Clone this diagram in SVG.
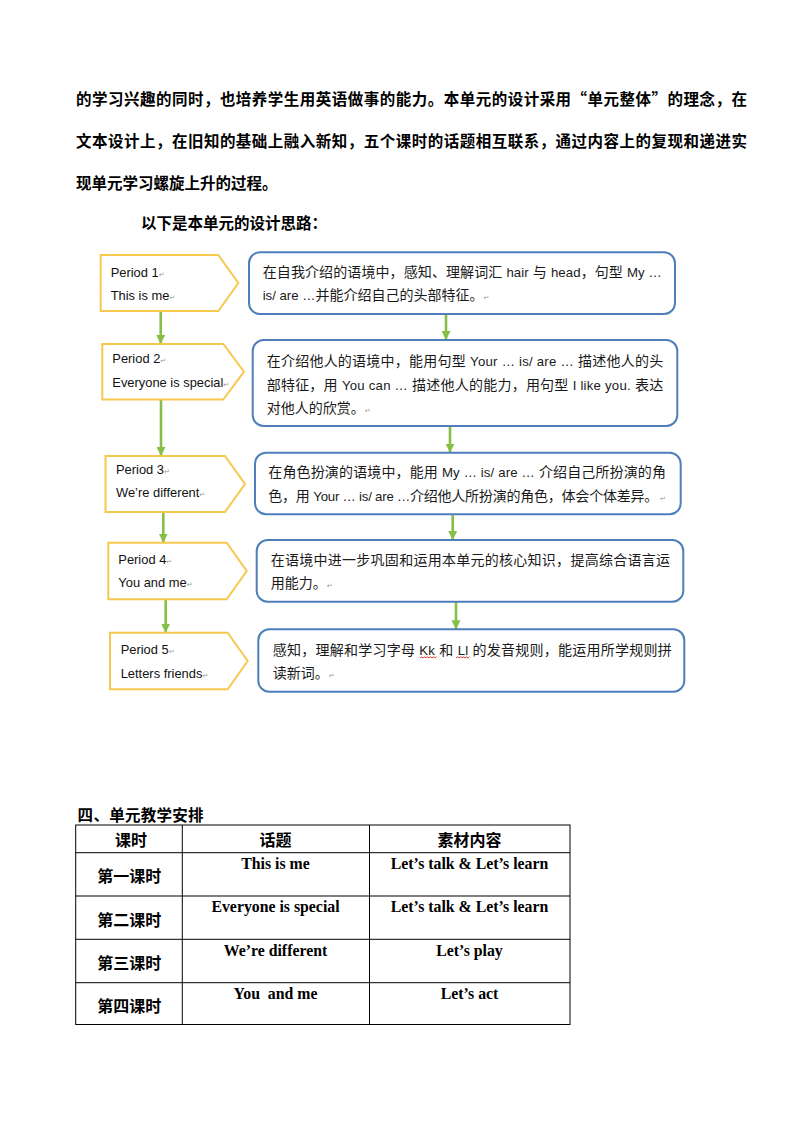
<svg xmlns="http://www.w3.org/2000/svg" width="794" height="1123" viewBox="0 0 794 1123">
<defs>
<style>
.top{font-family:"Noto Sans CJK SC",sans-serif;font-weight:700;font-size:15.5px;fill:#000}
.bx{font-family:"Liberation Sans","Noto Sans CJK SC",sans-serif;font-size:14px;fill:#1a1a1a}
.l{font-size:13.2px}
.pt{font-family:"Liberation Sans",sans-serif;font-size:12.9px;fill:#111}
.pm{font-family:"DejaVu Sans",sans-serif;font-size:7px;fill:#999}
.pent{fill:#fff;stroke:#f6c84e;stroke-width:2;stroke-linejoin:miter}
.box{fill:#fff;stroke:#4f7fba;stroke-width:2}
.arr{stroke:#86bf47;stroke-width:2.6;fill:none;marker-end:url(#ah)}
.tb{fill:none;stroke:#000;stroke-width:1}
.th{font-family:"Noto Sans CJK SC",sans-serif;font-weight:700;font-size:16px;fill:#000;text-anchor:middle}
.te{font-family:"Liberation Serif",serif;font-weight:700;font-size:15.8px;fill:#000;text-anchor:middle}
.sq{fill:none;stroke:#e02020;stroke-width:0.9}
</style>
<marker id="ah" markerUnits="userSpaceOnUse" markerWidth="9" markerHeight="9" refX="9" refY="4.5" orient="auto">
<path d="M0,0 L9,4.5 L0,9 Z" fill="#86bf47"/>
</marker>
</defs>
<rect width="794" height="1123" fill="#fff"/>

<g id="intro">
<text class="top" x="76" y="105" textLength="671" lengthAdjust="spacing">的学习兴趣的同时，也培养学生用英语做事的能力。本单元的设计采用“单元整体”的理念，在</text>
<text class="top" x="76" y="147" textLength="671" lengthAdjust="spacing">文本设计上，在旧知的基础上融入新知，五个课时的话题相互联系，通过内容上的复现和递进实</text>
<text class="top" x="76" y="189">现单元学习螺旋上升的过程。</text>
<text class="top" x="141" y="229">以下是本单元的设计思路：</text>
</g>

<g id="connectors">
<line class="arr" x1="160.7" y1="311" x2="160.7" y2="344"/>
<line class="arr" x1="161" y1="399.5" x2="161" y2="456"/>
<line class="arr" x1="163.3" y1="512" x2="163.3" y2="542.7"/>
<line class="arr" x1="165.7" y1="599.3" x2="165.7" y2="632.7"/>
<line class="arr" x1="446" y1="314" x2="446" y2="340"/>
<line class="arr" x1="450" y1="426" x2="450" y2="452.7"/>
<line class="arr" x1="452.7" y1="514.3" x2="452.7" y2="540"/>
<line class="arr" x1="456" y1="601.7" x2="456" y2="629.3"/>
</g>

<g id="period1">
<path class="pent" d="M100.7,255 H218.3 L238.3,283 L218.3,311 H100.7 Z"/>
<text class="pt" x="110.7" y="276.7">Period 1<tspan class="pm">↵</tspan></text>
<text class="pt" x="110.7" y="300">This is me<tspan class="pm">↵</tspan></text>
</g>
<g id="period2">
<path class="pent" d="M102.3,344 H223.3 L244,371.7 L223.3,399.5 H102.3 Z"/>
<text class="pt" x="112.3" y="363.3">Period 2<tspan class="pm">↵</tspan></text>
<text class="pt" x="112.3" y="386.7">Everyone is special<tspan class="pm">↵</tspan></text>
</g>
<g id="period3">
<path class="pent" d="M105.5,456 H225 L245,484 L225,512 H105.5 Z"/>
<text class="pt" x="116" y="473.5">Period 3<tspan class="pm">↵</tspan></text>
<text class="pt" x="116" y="497">We’re different<tspan class="pm">↵</tspan></text>
</g>
<g id="period4">
<path class="pent" d="M108.3,542.7 H226.7 L246.7,571 L226.7,599.3 H108.3 Z"/>
<text class="pt" x="118.3" y="564">Period 4<tspan class="pm">↵</tspan></text>
<text class="pt" x="118.3" y="587.3">You and me<tspan class="pm">↵</tspan></text>
</g>
<g id="period5">
<path class="pent" d="M110,632.7 H227.7 L247.7,661 L227.7,689.3 H110 Z"/>
<text class="pt" x="120.7" y="654.3">Period 5<tspan class="pm">↵</tspan></text>
<text class="pt" x="120.7" y="677.7">Letters friends<tspan class="pm">↵</tspan></text>
</g>

<g id="desc1">
<rect class="box" x="249" y="252.3" width="426" height="61.7" rx="11"/>
<text class="bx" x="262.7" y="277" textLength="399" lengthAdjust="spacing">在自我介绍的语境中，感知、理解词汇 <tspan class="l">hair</tspan> 与 <tspan class="l">head</tspan>，句型 <tspan class="l">My …</tspan></text>
<text class="bx" x="262.7" y="300"><tspan class="l">is/ are …</tspan>并能介绍自己的头部特征。<tspan class="pm">↵</tspan></text>
</g>
<g id="desc2">
<rect class="box" x="252.7" y="340" width="424.6" height="86" rx="11"/>
<text class="bx" x="266.7" y="366" textLength="396.5" lengthAdjust="spacing">在介绍他人的语境中，能用句型 <tspan class="l">Your … is/ are …</tspan>  描述他人的头</text>
<text class="bx" x="266.7" y="389.5" textLength="396.5" lengthAdjust="spacing">部特征，用 <tspan class="l">You can …</tspan>  描述他人的能力，用句型 <tspan class="l">I like you.</tspan>  表达</text>
<text class="bx" x="266.7" y="413">对他人的欣赏。<tspan class="pm">↵</tspan></text>
</g>
<g id="desc3">
<rect class="box" x="255" y="452.7" width="425.7" height="61.6" rx="11"/>
<text class="bx" x="268.3" y="477.3" textLength="397.7" lengthAdjust="spacing">在角色扮演的语境中，能用 <tspan class="l">My … is/ are …</tspan>  介绍自己所扮演的角</text>
<text class="bx" x="268.3" y="500.5" textLength="390" lengthAdjust="spacing">色，用 <tspan class="l">Your … is/ are …</tspan>介绍他人所扮演的角色，体会个体差异。</text>
<text class="pm" x="660" y="500.5">↵</text>
</g>
<g id="desc4">
<rect class="box" x="256.7" y="540" width="426.6" height="61.7" rx="11"/>
<text class="bx" x="270.7" y="565" textLength="399.3" lengthAdjust="spacing">在语境中进一步巩固和运用本单元的核心知识，提高综合语言运</text>
<text class="bx" x="270.7" y="588.3">用能力。<tspan class="pm">↵</tspan></text>
</g>
<g id="desc5">
<rect class="box" x="258.3" y="629.3" width="426" height="62.4" rx="11"/>
<text class="bx" x="272.7" y="655" textLength="399" lengthAdjust="spacing">感知，理解和学习字母 <tspan class="l">Kk</tspan> 和 <tspan class="l">Ll</tspan> 的发音规则，能运用所学规则拼</text>
<text class="bx" x="272.7" y="678.3">读新词。<tspan class="pm">↵</tspan></text>
<path class="sq" d="M420,658 l1.5,-1.2 l1.5,1.2 l1.5,-1.2 l1.5,1.2 l1.5,-1.2 l1.5,1.2 l1.5,-1.2 l1.5,1.2 l1.5,-1.2 l1.5,1.2 l1.5,-1.2"/>
<path class="sq" d="M456,658 l1.5,-1.2 l1.5,1.2 l1.5,-1.2 l1.5,1.2 l1.5,-1.2 l1.5,1.2 l1.5,-1.2 l1.5,1.2 l1.5,-1.2"/>
</g>

<g id="schedule">
<text class="top" x="77.6" y="821" textLength="126" lengthAdjust="spacing">四、单元教学安排</text>
<rect class="tb" x="75.7" y="825" width="494.3" height="199.5"/>
<line class="tb" x1="182.3" y1="825" x2="182.3" y2="1024.5"/>
<line class="tb" x1="369.5" y1="825" x2="369.5" y2="1024.5"/>
<line class="tb" x1="75.7" y1="852.7" x2="570" y2="852.7"/>
<line class="tb" x1="75.7" y1="896" x2="570" y2="896"/>
<line class="tb" x1="75.7" y1="939.3" x2="570" y2="939.3"/>
<line class="tb" x1="75.7" y1="982.7" x2="570" y2="982.7"/>
<text class="th" x="131" y="846">课时</text>
<text class="th" x="275.5" y="846">话题</text>
<text class="th" x="469.5" y="846">素材内容</text>
<text class="th" x="129.2" y="882">第一课时</text>
<text class="th" x="129.2" y="925.5">第二课时</text>
<text class="th" x="129.2" y="968.8">第三课时</text>
<text class="th" x="129.2" y="1012">第四课时</text>
<text class="te" x="275.5" y="869">This is me</text>
<text class="te" x="275.5" y="912.3">Everyone is special</text>
<text class="te" x="275.5" y="955.6">We’re different</text>
<text class="te" x="275.5" y="999">You&#160; and me</text>
<text class="te" x="469.5" y="869">Let’s talk &amp; Let’s learn</text>
<text class="te" x="469.5" y="912.3">Let’s talk &amp; Let’s learn</text>
<text class="te" x="469.5" y="955.6">Let’s play</text>
<text class="te" x="469.5" y="999">Let’s act</text>
</g>
</svg>
